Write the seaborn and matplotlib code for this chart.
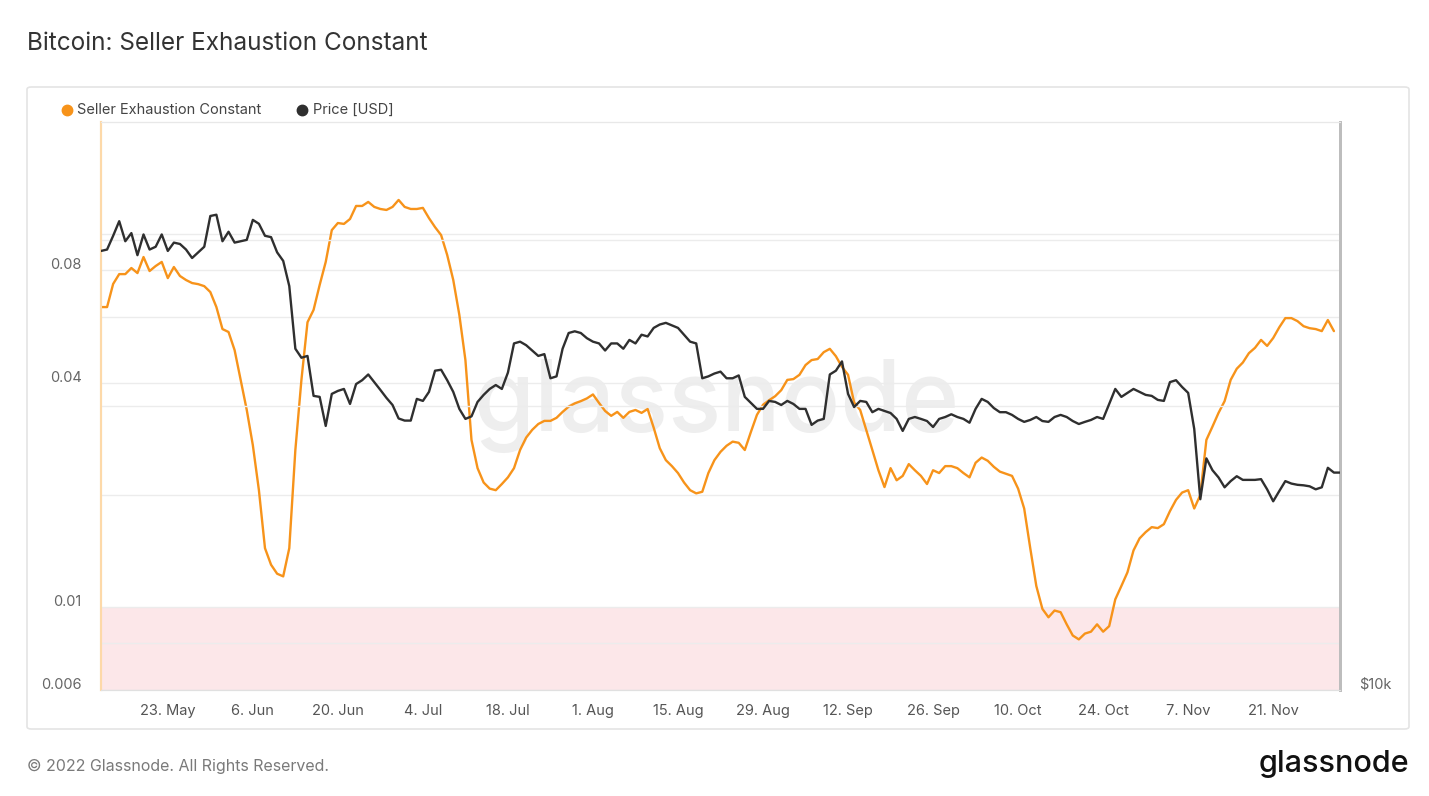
import numpy as np
import pandas as pd
import matplotlib
matplotlib.use("Agg")
import matplotlib.pyplot as plt
from matplotlib.lines import Line2D
from matplotlib.patches import FancyBboxPatch
from matplotlib.transforms import ScaledTranslation
import seaborn as sns

# --- data (daily) ---
start_date = "2022-05-12"

sec_values = [
    0.0638, 0.0638, 0.0736, 0.0782, 0.0782, 0.0812, 0.0787, 0.0869, 0.0797, 0.0822,
    0.0843, 0.0763, 0.0817, 0.0773, 0.0754, 0.0740, 0.0735, 0.0726, 0.0700, 0.0638,
    0.0557, 0.0547, 0.0489, 0.0407, 0.0338, 0.0272, 0.0206, 0.0144, 0.0130, 0.0123,
    0.0121, 0.0144, 0.0264, 0.0407, 0.0581, 0.0627, 0.0731, 0.0843, 0.1026, 0.1072,
    0.1066, 0.1099, 0.1191, 0.1191, 0.1221, 0.1184, 0.1169, 0.1162, 0.1184, 0.1236,
    0.1184, 0.1169, 0.1169, 0.1177, 0.1105, 0.1045, 0.0995, 0.0880, 0.0754, 0.0608,
    0.0460, 0.0281, 0.0236, 0.0216, 0.0208, 0.0206, 0.0214, 0.0223, 0.0236, 0.0264,
    0.0285, 0.0299, 0.0310, 0.0316, 0.0316, 0.0322, 0.0334, 0.0345, 0.0352, 0.0357,
    0.0363, 0.0372, 0.0353, 0.0336, 0.0326, 0.0334, 0.0322, 0.0334, 0.0338, 0.0332,
    0.0340, 0.0303, 0.0267, 0.0248, 0.0239, 0.0229, 0.0216, 0.0206, 0.0202, 0.0204,
    0.0229, 0.0248, 0.0261, 0.0271, 0.0278, 0.0276, 0.0264, 0.0295, 0.0328, 0.0349,
    0.0359, 0.0368, 0.0382, 0.0407, 0.0409, 0.0420, 0.0446, 0.0460, 0.0463, 0.0483,
    0.0493, 0.0471, 0.0441, 0.0420, 0.0354, 0.0338, 0.0299, 0.0264, 0.0233, 0.0210,
    0.0236, 0.0219, 0.0225, 0.0242, 0.0233, 0.0225, 0.0214, 0.0233, 0.0229, 0.0239,
    0.0239, 0.0236, 0.0229, 0.0223, 0.0244, 0.0252, 0.0247, 0.0238, 0.0231, 0.0228,
    0.0225, 0.0208, 0.0184, 0.0144, 0.0114, 0.0099, 0.0094, 0.0098, 0.0097, 0.0090,
    0.0084, 0.0082, 0.0085, 0.0086, 0.0090, 0.0086, 0.0089, 0.0105, 0.0114, 0.0124,
    0.0142, 0.0153, 0.0159, 0.0164, 0.0163, 0.0167, 0.0181, 0.0194, 0.0203, 0.0206,
    0.0184, 0.0200, 0.0281, 0.0305, 0.0332, 0.0357, 0.0407, 0.0436, 0.0453, 0.0480,
    0.0496, 0.0521, 0.0502, 0.0527, 0.0563, 0.0596, 0.0596, 0.0585, 0.0567, 0.0560,
    0.0557, 0.0550, 0.0589, 0.0550,
]

price_k = [
    29.2, 29.3, 30.3, 31.4, 29.9, 30.5, 28.9, 30.4, 29.3, 29.5,
    30.4, 29.2, 29.8, 29.7, 29.3, 28.7, 29.1, 29.5, 31.8, 31.9,
    29.9, 30.6, 29.8, 29.9, 30.0, 31.5, 31.2, 30.3, 30.2, 29.1,
    28.5, 26.8, 23.0, 22.5, 22.6, 20.5, 20.45, 19.05, 20.6, 20.75,
    20.85, 20.1, 21.1, 21.3, 21.6, 21.2, 20.8, 20.4, 20.05, 19.4,
    19.3, 19.3, 20.35, 20.25, 20.7, 21.8, 21.85, 21.3, 20.7, 19.86,
    19.38, 19.5, 20.2, 20.55, 20.85, 21.05, 20.85, 21.7, 23.3, 23.4,
    23.2, 22.9, 22.6, 22.7, 21.4, 21.5, 23.0, 23.9, 24.0, 23.9,
    23.6, 23.4, 23.3, 22.9, 23.3, 23.3, 23.0, 23.5, 23.3, 23.8,
    23.7, 24.2, 24.4, 24.5, 24.35, 24.2, 23.8, 23.4, 23.3, 21.4,
    21.5, 21.65, 21.75, 21.4, 21.4, 21.55, 20.45, 20.15, 19.86, 19.86,
    20.25, 20.2, 20.05, 20.25, 20.1, 19.86, 19.86, 19.1, 19.3, 19.38,
    21.6, 21.8, 22.3, 20.6, 19.95, 20.25, 20.2, 19.7, 19.86, 19.76,
    19.66, 19.38, 18.82, 19.38, 19.47, 19.38, 19.28, 19.0, 19.38, 19.47,
    19.6, 19.47, 19.38, 19.2, 19.86, 20.35, 20.2, 19.9, 19.7, 19.7,
    19.57, 19.38, 19.24, 19.33, 19.47, 19.28, 19.24, 19.47, 19.57, 19.47,
    19.28, 19.14, 19.24, 19.33, 19.47, 19.38, 20.1, 20.85, 20.45, 20.65,
    20.85, 20.7, 20.55, 20.5, 20.3, 20.25, 21.2, 21.3, 20.95, 20.65,
    18.91, 15.93, 17.6, 17.1, 16.8, 16.4, 16.65, 16.85, 16.7, 16.7,
    16.7, 16.73, 16.32, 15.85, 16.25, 16.65, 16.55, 16.5, 16.48, 16.44,
    16.32, 16.4, 17.2, 17.0, 17.0,
]

xtick_dates = ["2022-05-23", "2022-06-06", "2022-06-20", "2022-07-04", "2022-07-18",
               "2022-08-01", "2022-08-15", "2022-08-29", "2022-09-12", "2022-09-26",
               "2022-10-10", "2022-10-24", "2022-11-07", "2022-11-21"]
xtick_labels = ["23. May", "6. Jun", "20. Jun", "4. Jul", "18. Jul", "1. Aug", "15. Aug",
                "29. Aug", "12. Sep", "26. Sep", "10. Oct", "24. Oct", "7. Nov", "21. Nov"]

sec_yticks = [0.006, 0.01, 0.04, 0.08]
sec_ylabels = ["0.006", "0.01", "0.04", "0.08"]
sec_grid = [0.008, 0.02, 0.06, 0.1]

sec_df = pd.DataFrame({
    "date": pd.date_range(start_date, periods=len(sec_values), freq="D"),
    "sec": sec_values,
})
price_df = pd.DataFrame({
    "date": pd.date_range(start_date, periods=len(price_k), freq="D"),
    "price": np.array(price_k) * 1000,
})

ORANGE = "#f7931a"
DARK = "#2f2f2f"

sns.set_style("white")
plt.rcParams["font.family"] = ["Inter", "DejaVu Sans"]

W, H = 1429, 796
fig = plt.figure(figsize=(W / 100, H / 100), dpi=100)
fig.patch.set_facecolor("white")


def fx(px):
    return px / W


def fy(py):
    return 1 - py / H


# outer frame
frame = FancyBboxPatch((fx(27), fy(729)), fx(1409) - fx(27), fy(87) - fy(729),
                       boxstyle="round,pad=0,rounding_size=0.003",
                       transform=fig.transFigure, facecolor="none",
                       edgecolor="#e4e4e4", linewidth=1.2)
fig.add_artist(frame)

ax = fig.add_axes([fx(101), fy(690), fx(1340) - fx(101), fy(122) - fy(690)])
ax2 = ax.twinx()

# watermark
ax.text(0.497, 0.50, "glassnode", transform=ax.transAxes, ha="center", va="center",
        fontsize=71, color="#eeeeee", fontweight="medium", zorder=0)

# pink "exhaustion" zone below 0.01
ax.axhspan(0.006, 0.01, color="#fce7e9", zorder=0.1, lw=0)

sns.lineplot(data=sec_df, x="date", y="sec", ax=ax, color=ORANGE, linewidth=1.7, zorder=3)
sns.lineplot(data=price_df, x="date", y="price", ax=ax2, color=DARK, linewidth=1.7, zorder=3)

ax.set_yscale("log")
ax.set_ylim(0.006, 0.2)
ax.set_yticks(sec_yticks)
ax.set_yticklabels(sec_ylabels)
ax.set_yticks(sec_grid, minor=True)
ax.yaxis.set_minor_formatter(plt.NullFormatter())
ax.grid(True, which="both", axis="y", color="#ececec", linewidth=1)
ax.tick_params(axis="y", which="both", length=0, pad=14, labelsize=10.5, labelcolor="#666666")

ax2.set_yscale("log")
ax2.set_ylim(10000, 40000)
ax2.set_yticks([10000])
ax2.set_yticklabels(["$10k"])
ax2.set_yticks([20000, 30000], minor=True)
ax2.yaxis.set_minor_formatter(plt.NullFormatter())
ax2.grid(True, which="minor", axis="y", color="#ececec", linewidth=1)
ax2.tick_params(axis="y", which="both", length=0, pad=14, labelsize=10.5, labelcolor="#666666")

# labels sit a little above their gridlines in the original
lift = ScaledTranslation(0, 0.065, fig.dpi_scale_trans)
for lab in ax.get_yticklabels() + ax2.get_yticklabels():
    lab.set_transform(lab.get_transform() + lift)

ax.set_xlim(pd.Timestamp("2022-05-12"), pd.Timestamp("2022-12-02"))
ax.set_xticks(pd.to_datetime(xtick_dates))
ax.set_xticklabels(xtick_labels)
ax.tick_params(axis="x", length=9, width=1, color="#e6e6e6", pad=1,
               labelsize=10.5, labelcolor="#555555")
ax.set_xlabel("")
ax.set_ylabel("")
ax2.set_ylabel("")

for a in (ax, ax2):
    a.spines["top"].set_color("#e8e8e8")
    a.spines["bottom"].set_color("#e0e0e0")
    a.spines["left"].set_color("#fdd9a9")
    a.spines["left"].set_linewidth(1.5)
    a.spines["right"].set_color("#bdbdbd")
    a.spines["right"].set_linewidth(2)
ax2.patch.set_visible(False)

# legend
fig.add_artist(Line2D([fx(67)], [fy(110)], marker="o", markersize=7.5, color=ORANGE,
                      linestyle="none", transform=fig.transFigure))
fig.text(fx(77), fy(110), "Seller Exhaustion Constant", fontsize=10.5, color="#444444",
         va="center", ha="left")
fig.add_artist(Line2D([fx(302)], [fy(110)], marker="o", markersize=7.5, color=DARK,
                      linestyle="none", transform=fig.transFigure))
fig.text(fx(313), fy(110), "Price [USD]", fontsize=10.5, color="#444444",
         va="center", ha="left")

# title and footer
fig.text(fx(27), fy(43), "Bitcoin: Seller Exhaustion Constant", fontsize=17.5,
         color="#333333", va="center", ha="left")
fig.text(fx(27), fy(766), "\u00a9 2022 Glassnode. All Rights Reserved.", fontsize=11.5,
         color="#7a7a7a", va="center", ha="left")
fig.text(fx(1409), fy(764), "glassnode", fontsize=22, color="#111111",
         fontweight="medium", va="center", ha="right")

fig.savefig("out.png", dpi=100, facecolor="white")
